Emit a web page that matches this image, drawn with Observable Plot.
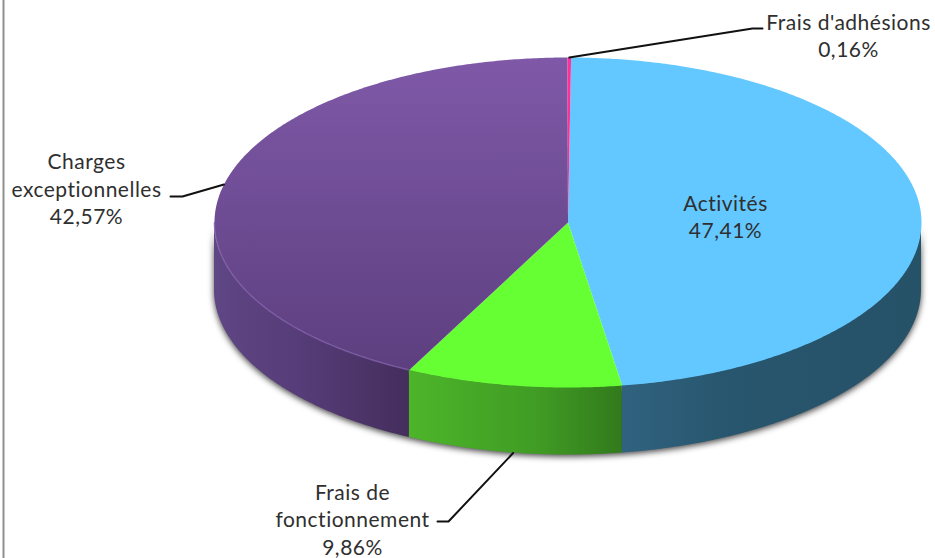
<!DOCTYPE html>
<html>
<head>
<meta charset="utf-8">
<script src="https://cdn.jsdelivr.net/npm/d3@7"></script>
<script src="https://cdn.jsdelivr.net/npm/@observablehq/plot@0.6"></script>
<style>
html,body{margin:0;padding:0;background:#fff;overflow:hidden}
svg{display:block}
svg text{letter-spacing:.5px}
</style>
</head>
<body>
<div id="chart"></div>
<script>
// Data, clockwise from twelve o'clock
const categories = ["Activités", "Frais de fonctionnement", "Charges exceptionnelles", "Frais d'adhésions"];
const shares = [47.41, 9.86, 42.57, 0.16];
const shareLabels = ["47,41%", "9,86%", "42,57%", "0,16%"];
const labelLines = ["Activités", "Frais de\nfonctionnement", "Charges\nexceptionnelles", "Frais d'adhésions"];

// Layout of the tilted disc
const W = 935, H = 558;
const cx = 567.5, cy = 222, rx = 353.5, ry = 165, depth = 67.5, firstAngle = 0.5;
const topFills = ["#63c8ff", "#66ff33", "url(#topPurple)", "#ff2f97"];
const wallFills = ["url(#wallBlue)", "url(#wallGreen)", "url(#wallPurple)", "#c02070"];

const rad = d => d * Math.PI / 180;
const px = a => cx + rx * Math.sin(rad(a));
const py = a => cy - ry * Math.cos(rad(a));

let cum = 0;
const slices = shares.map((v, i) => {
  const a0 = firstAngle + cum * 3.6; cum += v; const a1 = firstAngle + cum * 3.6;
  return {i, a0, a1, mid: (a0 + a1) / 2};
});
const arc = (a0, a1) => {
  const n = Math.max(2, Math.ceil((a1 - a0) * 2));
  return d3.range(n + 1).map(k => a0 + (a1 - a0) * k / n);
};
const topPoly = s => [{x: cx, y: cy}, ...arc(s.a0, s.a1).map(a => ({x: px(a), y: py(a)})), {x: cx, y: cy}];
const wallPts = s => {
  const a0 = Math.max(s.a0, 90), a1 = Math.min(s.a1, 270);
  return a1 > a0 ? arc(a0, a1).map(a => ({x: px(a), y1: py(a), y2: py(a) + depth})) : [];
};
const wholeWall = wallPts({a0: 90, a1: 270});
const rim = arc(slices[2].a0 + 0.3, 270).map(a => ({x: px(a), y: py(a)}));

// Labels and leader lines start from the slice they name
const leaders = [
  null,
  {a: slices[1].mid, drop: depth, elbow: [448, 521], end: [437, 521], text: [352, 518]},
  {a: slices[2].mid, drop: 0, elbow: [182, 196], end: [170, 196], text: [86, 187.5]},
  {a: slices[3].mid, drop: 0, elbow: [752, 28], end: [762, 28], text: [848, 34.5]}
];
const leaderRows = leaders.flatMap((l, i) => l ? [
  {i, x: px(l.a), y: py(l.a) + l.drop}, {i, x: l.elbow[0], y: l.elbow[1]}, {i, x: l.end[0], y: l.end[1]}
] : []);
const textRows = categories.map((c, i) => ({
  label: labelLines[i] + "\n" + shareLabels[i],
  x: leaders[i] ? leaders[i].text[0] : 725,
  y: leaders[i] ? leaders[i].text[1] : 215
}));

const defs = () => {
  const d = d3.create("svg:defs");
  const grad = (id, x2, y2, stops) => {
    const g = d.append("linearGradient").attr("id", id).attr("x1", 0).attr("y1", 0).attr("x2", x2).attr("y2", y2);
    stops.forEach(([o, c]) => g.append("stop").attr("offset", o).attr("stop-color", c));
  };
  grad("topPurple", 0, 1, [[0, "#7f59a8"], [1, "#5d3f7f"]]);
  grad("wallPurple", 1, 0, [[0, "#5f4684"], [0.45, "#563c78"], [1, "#442e5c"]]);
  grad("wallGreen", 1, 0, [[0, "#4db52a"], [0.6, "#409c24"], [1, "#327a1c"]]);
  grad("wallBlue", 1, 0, [[0, "#30627f"], [0.35, "#28566e"], [1, "#265268"]]);
  return d.node();
};

const marks = [
  defs,
  Plot.ruleX([3], {stroke: "#8f8f8f", strokeWidth: 2}),
  Plot.areaY(wholeWall, {x: "x", y1: "y1", y2: "y2", fill: "#444", dy: 2, imageFilter: "blur(3px)"}),
  ...slices.map(s => Plot.areaY(wallPts(s), {x: "x", y1: "y1", y2: "y2", fill: wallFills[s.i]})),
  ...slices.map(s => Plot.line(topPoly(s), {x: "x", y: "y", fill: topFills[s.i], stroke: "none", curve: "linear"})),
  Plot.line(rim, {x: "x", y: "y", stroke: "#7f5fa8", strokeWidth: 1.5, strokeOpacity: 0.8, curve: "linear"}),
  Plot.line(leaderRows, {x: "x", y: "y", z: "i", stroke: "#111", strokeWidth: 2, curve: "linear"}),
  Plot.text(textRows, {x: "x", y: "y", text: "label", fill: "#2f2f2f", fontSize: 21, lineHeight: 1.3, textAnchor: "middle"})
];

const chart = Plot.plot({
  width: W, height: H,
  margin: 0,
  x: {domain: [0, W], range: [0, W], axis: null},
  y: {domain: [0, H], range: [0, H], axis: null},
  style: {fontFamily: "Lato, sans-serif", background: "#fff"},
  marks
});
document.getElementById("chart").append(chart);
</script>
</body>
</html>
